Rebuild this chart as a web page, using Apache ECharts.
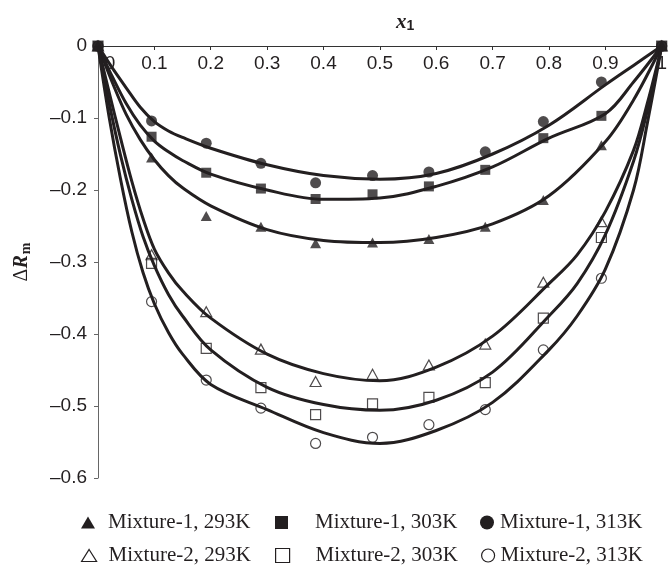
<!DOCTYPE html>
<html>
<head>
<meta charset="utf-8">
<script src="https://cdn.jsdelivr.net/npm/echarts@6/dist/echarts.min.js"></script>
<style>html,body{margin:0;padding:0;background:#fff;}#c{width:670px;height:566px;}</style>
</head>
<body>
<div id="c"></div>
<script>
// Measured points
const xPts = [0, 0.095, 0.192, 0.289, 0.386, 0.487, 0.587, 0.687, 0.79, 0.893, 1];
const m1_293 = [0, -0.155, -0.236, -0.251, -0.274, -0.273, -0.268, -0.251, -0.214, -0.138, 0];
const m1_303 = [0, -0.126, -0.176, -0.198, -0.2125, -0.206, -0.195, -0.172, -0.128, -0.097, 0];
const m1_313 = [0, -0.104, -0.135, -0.163, -0.19, -0.180, -0.175, -0.147, -0.105, -0.050, 0];
const m2_293 = [0, -0.29, -0.369, -0.421, -0.466, -0.456, -0.443, -0.414, -0.328, -0.244, 0];
const m2_303 = [0, -0.302, -0.42, -0.4745, -0.512, -0.497, -0.488, -0.4676, -0.378, -0.266, 0];
const m2_313 = [0, -0.355, -0.464, -0.503, -0.552, -0.5435, -0.526, -0.505, -0.422, -0.3226, 0];

// Fitted curves
const curveX1 = [0, 0.01, 0.025, 0.05, 0.075, 0.1, 0.125, 0.15, 0.2, 0.3, 0.4, 0.5, 0.6, 0.7, 0.8, 0.9, 0.95, 1];
const fit1_293 = [0, -0.02, -0.05, -0.095, -0.13, -0.158, -0.18, -0.197, -0.222, -0.255, -0.27, -0.273, -0.266, -0.247, -0.208, -0.133, -0.075, 0];
const fit1_303 = [0, -0.017, -0.042, -0.08, -0.11, -0.132, -0.147, -0.159, -0.178, -0.200, -0.213, -0.211, -0.195, -0.168, -0.128, -0.094, -0.05, 0];
const fit1_313 = [0, -0.012, -0.03, -0.058, -0.085, -0.105, -0.118, -0.127, -0.142, -0.165, -0.180, -0.185, -0.177, -0.15, -0.11, -0.054, -0.027, 0];
const curveX2 = [0, 0.02, 0.04, 0.06, 0.08, 0.1, 0.125, 0.15, 0.2, 0.3, 0.4, 0.5, 0.6, 0.7, 0.8, 0.85, 0.9, 0.95, 0.975, 1];
const fit2_293 = [0, -0.065, -0.128, -0.188, -0.24, -0.282, -0.315, -0.34, -0.378, -0.428, -0.455, -0.465, -0.446, -0.403, -0.33, -0.29, -0.23, -0.145, -0.078, 0];
const fit2_303 = [0, -0.08, -0.152, -0.213, -0.265, -0.305, -0.345, -0.375, -0.422, -0.474, -0.498, -0.506, -0.492, -0.453, -0.375, -0.33, -0.262, -0.16, -0.088, 0];
const fit2_313 = [0, -0.1, -0.185, -0.258, -0.315, -0.358, -0.398, -0.428, -0.47, -0.505, -0.537, -0.552, -0.534, -0.495, -0.422, -0.375, -0.31, -0.2, -0.105, 0];

const names = ['Mixture-1, 293K', 'Mixture-1, 303K', 'Mixture-1, 313K', 'Mixture-2, 293K', 'Mixture-2, 303K', 'Mixture-2, 313K'];
const yTicks = ['0', '\u20130.1', '\u20130.2', '\u20130.3', '\u20130.4', '\u20130.5', '\u20130.6'];

const INK = '#231f20';
const pts = [m1_293, m1_303, m1_313, m2_293, m2_303, m2_313];
const fits = [fit1_293, fit1_303, fit1_313, fit2_293, fit2_303, fit2_313];
const fitX = [curveX1, curveX1, curveX1, curveX2, curveX2, curveX2];
const symbols = ['triangle', 'rect', 'circle', 'triangle', 'rect', 'circle'];
const filled = [true, true, true, false, false, false];
const sizes = [[11, 10], 10, 11, [11, 10], 10, 10];

const pair = (xs, ys) => xs.map((x, i) => [x, ys[i]]);

const series = [];
fits.forEach((f, i) => {
  series.push({
    name: names[i], type: 'line', data: pair(fitX[i], f), smooth: 0.35, symbol: 'none',
    lineStyle: { color: INK, width: 3 }, z: 3, silent: true
  });
});
[3, 4, 5, 0, 2, 1].forEach(i => {
  series.push({
    name: names[i], type: 'scatter', data: pair(xPts, pts[i]), symbol: symbols[i], symbolSize: sizes[i],
    itemStyle: filled[i] ? { color: INK } : { color: 'rgba(255,255,255,0)', borderColor: INK, borderWidth: 1.2 },
    z: 4
  });
});

const legendPos = [
  { left: 81, top: 512, w: 14, h: 12, pad: 8 }, { left: 275, top: 512, w: 13, h: 13, pad: 22 }, { left: 480, top: 512, w: 14, h: 14, pad: 1 },
  { left: 81, top: 545, w: 15, h: 12, pad: 7 }, { left: 275, top: 545, w: 14, h: 14, pad: 21 }, { left: 481, top: 545, w: 13, h: 13, pad: 1 }
];
const legends = names.map((n, i) => ({
  left: legendPos[i].left, top: legendPos[i].top, padding: 0,
  itemWidth: legendPos[i].w, itemHeight: legendPos[i].h,
  selectedMode: false,
  textStyle: { fontFamily: 'Liberation Serif', fontSize: 21, color: INK, lineHeight: 21, padding: [0, 0, 0, legendPos[i].pad] },
  data: [{
    name: n, icon: symbols[i],
    itemStyle: filled[i] ? { color: INK, borderWidth: 0 } : { color: '#fff', borderColor: INK, borderWidth: 1.2 }
  }]
}));

const chart = echarts.init(document.getElementById('c'), null, { renderer: 'canvas' });
chart.setOption({
  animation: false,
  backgroundColor: '#fff',
  grid: { left: 98, right: 5, top: 46, bottom: 88, containLabel: false },
  legend: legends,
  xAxis: {
    type: 'value', position: 'top', min: 0, max: 1, interval: 0.1,
    axisLine: { lineStyle: { color: '#333', width: 1 } },
    axisTick: { inside: true, length: 4, lineStyle: { color: '#333' } },
    splitLine: { show: false },
    axisLabel: {
      inside: true, margin: 8, color: INK, fontFamily: 'Liberation Sans', fontSize: 19,
      formatter: v => v === 0 ? '{z|0}' : (v === 1 ? '1' : v.toFixed(1)),
      rich: { z: { fontFamily: 'Liberation Sans', fontSize: 19, color: INK, padding: [0, 0, 0, 24] } }
    }
  },
  yAxis: {
    type: 'value', min: -0.6, max: 0, interval: 0.1,
    axisLine: { show: true, lineStyle: { color: '#666', width: 1 } },
    axisTick: { show: true, inside: false, length: 4, lineStyle: { color: '#666' } },
    splitLine: { show: false },
    axisLabel: {
      margin: 11, color: INK, fontFamily: 'Liberation Sans', fontSize: 19,
      formatter: v => yTicks[Math.round(-v * 10)]
    }
  },
  graphic: [
    {
      type: 'text', left: 396, top: 12,
      style: {
        text: '{x|x}{s|1}',
        rich: {
          x: { fontFamily: 'Liberation Serif', fontStyle: 'italic', fontWeight: 'bold', fontSize: 21, fill: INK },
          s: { fontFamily: 'Liberation Sans', fontWeight: 'bold', fontSize: 14, fill: INK, padding: [8, 0, 0, 0] }
        }
      }
    },
    {
      type: 'text', x: 22, y: 262, rotation: Math.PI / 2,
      style: {
        text: '{d|\u0394}{r|R}{m|m}', align: 'center', verticalAlign: 'middle',
        rich: {
          d: { fontFamily: 'Liberation Serif', fontSize: 20, fill: INK },
          r: { fontFamily: 'Liberation Serif', fontStyle: 'italic', fontWeight: 'bold', fontSize: 20, fill: INK },
          m: { fontFamily: 'Liberation Serif', fontWeight: 'bold', fontSize: 14, fill: INK, padding: [8, 0, 0, 1] }
        }
      }
    }
  ],
  series: series
});
</script>
</body>
</html>
